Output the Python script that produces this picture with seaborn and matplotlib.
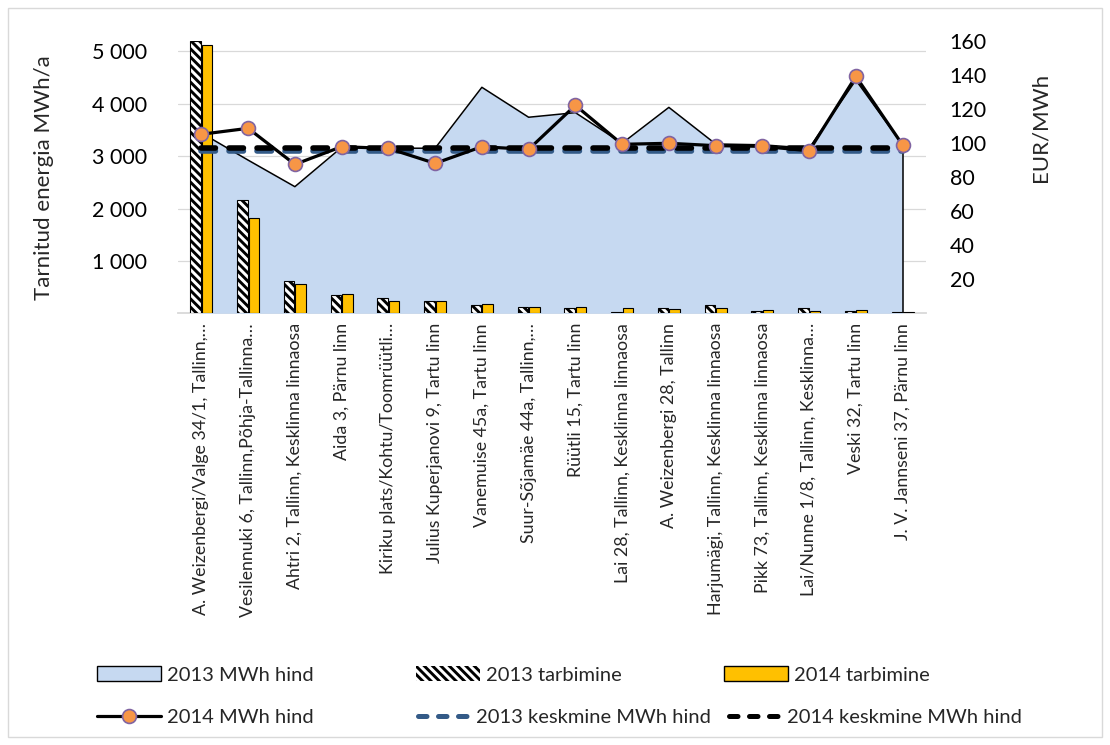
import numpy as np
import pandas as pd
import matplotlib
matplotlib.use("Agg")
import matplotlib.pyplot as plt
import seaborn as sns
from matplotlib.patches import Patch, Rectangle
from matplotlib.lines import Line2D
from matplotlib.ticker import FixedLocator, FuncFormatter

# ---------------- data ----------------
categories = [
    "A. Weizenbergi/Valge 34/1, Tallinn,…",
    "Vesilennuki 6, Tallinn,Põhja-Tallinna…",
    "Ahtri 2, Tallinn, Kesklinna linnaosa",
    "Aida 3, Pärnu linn",
    "Kiriku plats/Kohtu/Toomrüütli…",
    "Julius Kuperjanovi 9, Tartu linn",
    "Vanemuise 45a, Tartu linn",
    "Suur-Sõjamäe 44a, Tallinn,…",
    "Rüütli 15, Tartu linn",
    "Lai 28, Tallinn, Kesklinna linnaosa",
    "A. Weizenbergi 28, Tallinn",
    "Harjumägi, Tallinn, Kesklinna linnaosa",
    "Pikk 73, Tallinn, Kesklinna linnaosa",
    "Lai/Nunne 1/8, Tallinn, Kesklinna…",
    "Veski 32, Tartu linn",
    "J. V. Jannseni 37, Pärnu linn",
]
tarbimine_2013 = [5195, 2170, 625, 357, 299, 235, 165, 114, 107, 31, 104, 153, 45, 92, 45, 25]
tarbimine_2014 = [5120, 1820, 561, 363, 242, 235, 171, 114, 113, 104, 86, 92, 64, 51, 57, 20]
hind_2013 = [106, 90, 74.4, 97.5, 97, 97, 132.8, 115.2, 117.9, 99.9, 121, 99.5, 99, 97, 137, 99]
hind_2014 = [105.2, 108.7, 87.5, 97.9, 96.9, 88.1, 97.9, 96.3, 122.2, 99.3, 99.9, 98.5, 98.1, 95.5, 139.2, 98.9]
keskmine_2013 = 95.5
keskmine_2014 = 97.3

left_ticks = [1000, 2000, 3000, 4000, 5000]
right_ticks = [20, 40, 60, 80, 100, 120, 140, 160]

# ---------------- style ----------------
sns.set_style("white")
plt.rcParams["font.family"] = ["Lato", "DejaVu Sans"]
plt.rcParams["hatch.linewidth"] = 2.1
plt.rcParams["hatch.color"] = "black"

AREA = "#C6D9F1"
YELLOW = "#FFC000"
ORANGE = "#F79646"
PURPLE = "#8064A2"
NAVY = "#335A87"
GRID = "#D9D9D9"
HATCH = "\\\\\\\\"

W, H = 1110, 745
fig = plt.figure(figsize=(W / 100, H / 100), dpi=100)
L, R, T, B = 178, 926, 41, 313.3
ax0 = fig.add_axes([L / W, 1 - B / H, (R - L) / W, (B - T) / H])
axp = ax0.twinx()
axb = ax0.twinx()
axl = ax0.twinx()
ax0.set_zorder(1)
axp.set_zorder(2)
axb.set_zorder(3)
axl.set_zorder(4)
for a in (axp, axb, axl):
    a.patch.set_visible(False)

n = len(categories)
x = np.arange(n)

# ---------- area (2013 MWh hind) on price axis ----------
axp.fill_between(x, 0, hind_2013, color=AREA, linewidth=0)
sns.lineplot(x=x, y=hind_2013, ax=axp, color="black", linewidth=1.1, legend=False)
axp.vlines(x[-1], 0, hind_2013[-1], color="black", linewidth=1.1)

# ---------- bars ----------
df = pd.DataFrame({
    "cat": categories * 2,
    "val": tarbimine_2013 + tarbimine_2014,
    "series": ["2013 tarbimine"] * n + ["2014 tarbimine"] * n,
})
sns.barplot(data=df, x="cat", y="val", hue="series", order=categories,
            palette={"2013 tarbimine": "white", "2014 tarbimine": YELLOW},
            width=0.5, gap=0.1, edgecolor="black", linewidth=0.8,
            saturation=1, ax=axb, legend=False)
for p in axb.containers[0]:
    p.set_hatch(HATCH)

# ---------- lines ----------
sns.lineplot(x=x, y=np.full(n, keskmine_2013), ax=axl, color=NAVY, linewidth=4,
             legend=False)
sns.lineplot(x=x, y=np.full(n, keskmine_2014), ax=axl, color="black", linewidth=4,
             legend=False)
sns.lineplot(x=x, y=hind_2014, ax=axl, color="black", linewidth=2.3, marker="o",
             markersize=10, markerfacecolor=ORANGE, markeredgecolor=PURPLE,
             markeredgewidth=1.2, legend=False)
lines = axl.get_lines()
for ln in lines[:2]:
    ln.set_dashes([2.6, 2.44])
    ln.set_dash_capstyle("round")

# ---------- axes setup ----------
for a in (ax0, axb):
    a.set_ylim(0, 5200)
for a in (axp, axl):
    a.set_ylim(0, 160)
ax0.set_xlim(-0.5, n - 0.5)

for a in (ax0, axp, axb, axl):
    for s in a.spines.values():
        s.set_visible(False)
ax0.spines["bottom"].set_visible(True)
ax0.spines["bottom"].set_color(GRID)
ax0.spines["bottom"].set_linewidth(1.3)

ax0.yaxis.set_major_locator(FixedLocator(left_ticks))
ax0.yaxis.set_major_formatter(FuncFormatter(lambda v, p: f"{int(v):,}".replace(",", " ")))
ax0.grid(axis="y", color=GRID, linewidth=0.9)
ax0.tick_params(axis="y", length=0, pad=22, labelsize=15.5, labelcolor="black")
ax0.set_ylabel("Tarnitud energia MWh/a", fontsize=16)
ax0.yaxis.set_label_coords(-0.166, 0.5)

axp.yaxis.set_major_locator(FixedLocator(right_ticks))
axp.tick_params(axis="y", length=0, pad=17, labelsize=15.5, labelcolor="black")
axp.set_ylabel("EUR/MWh", fontsize=16)
axp.yaxis.set_label_coords(1.14, 0.684)

for a in (axb, axl):
    a.set_yticks([])
    a.set_ylabel("")
    a.set_xlabel("")

ax0.set_xticks(x)
ax0.set_xticklabels(categories, rotation=90, fontsize=12.8, va="top", ha="center")
ax0.tick_params(axis="x", length=0, pad=7)
ax0.set_xlabel("")

# ---------- legend ----------
fs = 14.5
common = dict(frameon=False, borderpad=0, borderaxespad=0,
              handletextpad=0.3, fontsize=fs, loc="center left")
entries = [
    (Patch(facecolor=AREA, edgecolor="black", linewidth=1.0), "2013 MWh hind", 97, 675, 3.2),
    (Patch(facecolor="white", edgecolor="black", hatch=HATCH, linewidth=0.0), "2013 tarbimine", 416, 675, 3.2),
    (Patch(facecolor=YELLOW, edgecolor="black", linewidth=1.0), "2014 tarbimine", 724, 675, 3.2),
    (Line2D([], [], color="black", linewidth=2.3, marker="o", markersize=10,
            markerfacecolor=ORANGE, markeredgecolor=PURPLE, markeredgewidth=1.2),
     "2014 MWh hind", 97, 717, 3.2),
    (Line2D([], [], color=NAVY, linewidth=3.6, dashes=[1.7, 2.3], dash_capstyle="round"),
     "2013 keskmine MWh hind", 418, 717, 2.6),
    (Line2D([], [], color="black", linewidth=3.6, dashes=[1.7, 2.3], dash_capstyle="round"),
     "2014 keskmine MWh hind", 729, 717, 2.6),
]
for h, lab, px, py, hl in entries:
    opts = dict(common)
    opts["handlelength"] = hl
    fig.legend([h], [lab], bbox_to_anchor=(px / W, 1 - py / H), **opts)

# ---------- chart border ----------
fig.patches.append(Rectangle((8 / W, 8 / H), (1102 - 8) / W, (737 - 8) / H,
                             transform=fig.transFigure, fill=False,
                             edgecolor=GRID, linewidth=1.0))

fig.savefig("out.png", dpi=100)
